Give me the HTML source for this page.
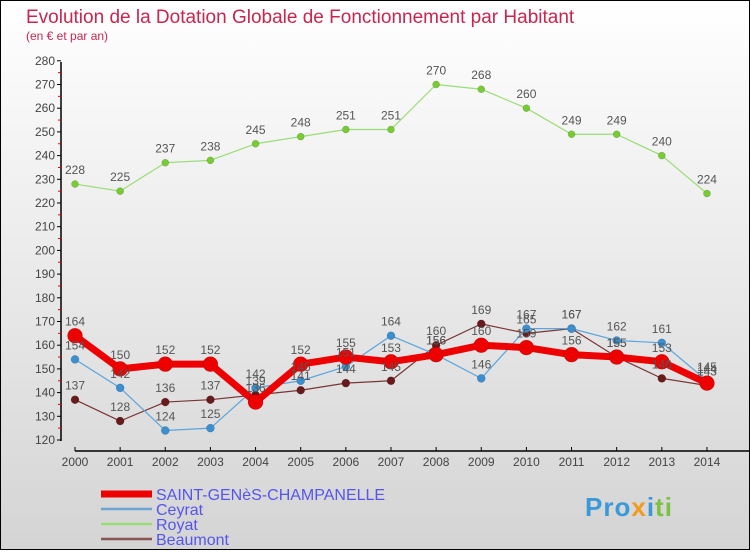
<!DOCTYPE html>
<html><head><meta charset="utf-8"><style>
html,body{margin:0;padding:0}
body{width:750px;height:550px;overflow:hidden;font-family:"Liberation Sans",sans-serif}
#wrap{position:relative;width:748px;height:548px;border:1px solid #000;background:linear-gradient(#ffffff,#d4d4d4)}
</style></head><body>
<div id="wrap">
<svg id="chart" width="748" height="548" xmlns="http://www.w3.org/2000/svg">
<text x="25" y="22" font-size="19" fill="#c8264f">Evolution de la Dotation Globale de Fonctionnement par Habitant</text>
<text x="25" y="39" font-size="12" fill="#c8264f">(en € et par an)</text>
<g id="axes"></g><g id="series"></g><g id="labels"></g><g id="legend"></g>
<g><text x="584" y="515" font-size="26" font-weight="bold" fill="#3a9ad9" letter-spacing="1">Pro<tspan fill="#f29a1c">x</tspan><tspan fill="#3a9ad9">i</tspan><tspan fill="#7cc242">ti</tspan></text></g>
</svg></div>
<script>
const years=[2000,2001,2002,2003,2004,2005,2006,2007,2008,2009,2010,2011,2012,2013,2014];
const saint=[164,150,152,152,136,152,155,153,156,160,159,156,155,153,144];
const ceyrat=[154,142,124,125,142,145,151,164,156,146,167,167,162,161,145];
const royat=[228,225,237,238,245,248,251,251,270,268,260,249,249,240,224];
const beaumont=[137,128,136,137,139,141,144,145,160,169,165,167,155,146,143];
const yTicks=[120,130,140,150,160,170,180,190,200,210,220,230,240,250,260,270,280];
const NS="http://www.w3.org/2000/svg";
const X=i=>74+i*45.14, Y=v=>439-(v-120)*2.37;
function mk(t,a,p){const e=document.createElementNS(NS,t);for(const k in a)e.setAttribute(k,a[k]);p.appendChild(e);return e;}
const ax=document.getElementById('axes');
let l=mk('line',{x1:60,y1:61,x2:60,y2:440,stroke:'#000','stroke-width':1.5},ax);


l=mk('line',{x1:74,y1:450,x2:748,y2:450,stroke:'#000','stroke-width':1.5},ax);


yTicks.forEach(v=>{const y=Y(v);
mk('line',{x1:56,y1:y,x2:60,y2:y,stroke:'#000'},ax);
if(v<280)mk('line',{x1:57,y1:Y(v+5),x2:60,y2:Y(v+5),stroke:'#e00'},ax);
const t=mk('text',{x:54,y:y+4,'font-size':12,'text-anchor':'end',fill:'#444'},ax);t.textContent=v;

});
years.forEach((yr,i)=>{const x=X(i);mk('line',{x1:x,y1:446,x2:x,y2:450,stroke:'#000'},ax);
const t=mk('text',{x:x,y:465,'font-size':12,'text-anchor':'middle',fill:'#444'},ax);t.textContent=yr;

});
const sg=document.getElementById('series');
const lb=document.getElementById('labels');
function draw(vals,color,lw,r,name,fill){
const g=mk('g',{},sg);


mk('polyline',{points:vals.map((v,i)=>X(i)+','+Y(v)).join(' '),fill:'none',stroke:color,'stroke-width':lw,'stroke-linejoin':'round'},g);
vals.forEach((v,i)=>{const c=mk('circle',{cx:X(i),cy:Y(v),r:r,fill:fill,stroke:'rgba(0,0,0,0.25)','stroke-width':0.5},g);


const t=mk('text',{x:X(i),y:Y(v)-10,'font-size':12,'text-anchor':'middle',fill:'#555'},lb);t.textContent=v;});}
draw(royat,'#99dd77',1.2,3.5,'royat','#77cc33');
draw(beaumont,'#7a3535',1.2,4,'beaumont','#6a1a1a');
draw(ceyrat,'#5aa5dd',1.2,4,'ceyrat','#3a8fd0');
draw(saint,'#ee0000',7,7.5,'saint-genes','#ee0000');
const lg=document.getElementById('legend');
[['SAINT-GENèS-CHAMPANELLE','#ee0000',7],['Ceyrat','#6aa6d4',2.5],['Royat','#99dd77',2.5],['Beaumont','#8a5555',2.5]].forEach((d,i)=>{
const y=493+i*15;const g=mk('g',{},lg);


mk('line',{x1:100,y1:y,x2:151,y2:y,stroke:d[1],'stroke-width':d[2]},g);
const t=mk('text',{x:155,y:y+6,'font-size':16,fill:'#5555ee'},g);t.textContent=d[0];});
</script>
</body></html>
